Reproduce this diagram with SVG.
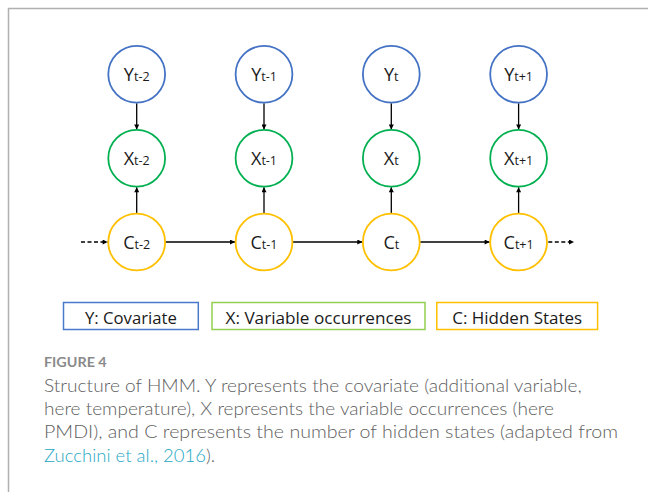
<svg xmlns="http://www.w3.org/2000/svg" width="648" height="492" viewBox="0 0 648 492">
  <style>
    .node { fill: #ffffff; stroke-width: 1.8; }
    .y { stroke: #4472C4; }
    .x { stroke: #00B050; }
    .c { stroke: #FFC000; }
    .lbl { font-family: "Open Sans", "Liberation Sans", sans-serif; font-size: 18px; fill: #1a1a1a; text-anchor: middle; }
    .sub { font-size: 12.5px; }
    .edge { stroke: #000000; stroke-width: 1.3; fill: none; marker-end: url(#arrow); }
    .dash { stroke-dasharray: 4 2.5; }
    .key { fill: #ffffff; stroke-width: 1.5; }
    .keytxt { font-family: "Open Sans", "Liberation Sans", sans-serif; font-size: 17px; fill: #1a1a1a; text-anchor: middle; }
    .cap { font-family: Lato, "Open Sans", sans-serif; font-size: 18.5px; font-weight: 300; fill: #606060; }
  </style>
  <defs>
    <marker id="arrow" viewBox="0 0 10 10" refX="10" refY="5" markerWidth="6" markerHeight="5" markerUnits="userSpaceOnUse" orient="auto">
      <path d="M0,0 L10,5 L0,10 z" fill="#000000"/>
    </marker>
  </defs>

  <rect width="648" height="492" fill="#ffffff"/>
  <!-- panel frame -->
  <path d="M8.5,492 V8.5 H648" fill="none" stroke="#b0b0b0" stroke-width="1.5"/>

  <!-- connectors -->
  <g id="connectors">
    <!-- Y -> X -->
    <line class="edge" x1="136.7" y1="103.3" x2="136.7" y2="129.5"/>
    <line class="edge" x1="264" y1="103.3" x2="264" y2="129.5"/>
    <line class="edge" x1="391.3" y1="103.3" x2="391.3" y2="129.5"/>
    <line class="edge" x1="518.6" y1="103.3" x2="518.6" y2="129.5"/>
    <!-- C -> X -->
    <line class="edge" x1="136.7" y1="213" x2="136.7" y2="187.2"/>
    <line class="edge" x1="264" y1="213" x2="264" y2="187.2"/>
    <line class="edge" x1="391.3" y1="213" x2="391.3" y2="187.2"/>
    <line class="edge" x1="518.6" y1="213" x2="518.6" y2="187.2"/>
    <!-- C -> C -->
    <line class="edge" x1="165.6" y1="242" x2="235" y2="242"/>
    <line class="edge" x1="292.9" y1="242" x2="362.3" y2="242"/>
    <line class="edge" x1="420.2" y1="242" x2="489.6" y2="242"/>
    <!-- open ends of the chain -->
    <line class="edge dash" x1="81" y1="242" x2="107.6" y2="242"/>
    <line class="edge dash" x1="548.3" y1="242" x2="574" y2="242"/>
  </g>

  <!-- covariate nodes -->
  <g id="Y_tm2"><circle class="node y" cx="136.7" cy="74.3" r="28.4"/><text class="lbl" x="136.7" y="81">Y<tspan class="sub">t-2</tspan></text></g>
  <g id="Y_tm1"><circle class="node y" cx="264" cy="74.3" r="28.4"/><text class="lbl" x="264" y="81">Y<tspan class="sub">t-1</tspan></text></g>
  <g id="Y_t"><circle class="node y" cx="391.3" cy="74.3" r="28.4"/><text class="lbl" x="391.3" y="81">Y<tspan class="sub">t</tspan></text></g>
  <g id="Y_tp1"><circle class="node y" cx="518.6" cy="74.3" r="28.4"/><text class="lbl" x="518.6" y="81">Y<tspan class="sub">t+1</tspan></text></g>

  <!-- observation nodes -->
  <g id="X_tm2"><circle class="node x" cx="136.7" cy="158.3" r="28.4"/><text class="lbl" x="136.7" y="165">X<tspan class="sub">t-2</tspan></text></g>
  <g id="X_tm1"><circle class="node x" cx="264" cy="158.3" r="28.4"/><text class="lbl" x="264" y="165">X<tspan class="sub">t-1</tspan></text></g>
  <g id="X_t"><circle class="node x" cx="391.3" cy="158.3" r="28.4"/><text class="lbl" x="391.3" y="165">X<tspan class="sub">t</tspan></text></g>
  <g id="X_tp1"><circle class="node x" cx="518.6" cy="158.3" r="28.4"/><text class="lbl" x="518.6" y="165">X<tspan class="sub">t+1</tspan></text></g>

  <!-- hidden state nodes -->
  <g id="C_tm2"><circle class="node c" cx="136.7" cy="242" r="28.4"/><text class="lbl" x="136.7" y="248.5">C<tspan class="sub">t-2</tspan></text></g>
  <g id="C_tm1"><circle class="node c" cx="264" cy="242" r="28.4"/><text class="lbl" x="264" y="248.5">C<tspan class="sub">t-1</tspan></text></g>
  <g id="C_t"><circle class="node c" cx="391.3" cy="242" r="28.4"/><text class="lbl" x="391.3" y="248.5">C<tspan class="sub">t</tspan></text></g>
  <g id="C_tp1"><circle class="node c" cx="518.6" cy="242" r="28.4"/><text class="lbl" x="518.6" y="248.5">C<tspan class="sub">t+1</tspan></text></g>

  <!-- legend -->
  <g id="legend_Y"><rect class="key" x="63.5" y="302.5" width="134.8" height="27" stroke="#4A78CC"/><text class="keytxt" x="130.9" y="324.3" textLength="92" lengthAdjust="spacingAndGlyphs">Y: Covariate</text></g>
  <g id="legend_X"><rect class="key" x="212" y="302.5" width="213" height="27" stroke="#92D050"/><text class="keytxt" x="318.5" y="324.3" textLength="186" lengthAdjust="spacingAndGlyphs">X: Variable occurrences</text></g>
  <g id="legend_C"><rect class="key" x="436.8" y="302.5" width="160.8" height="27" stroke="#FFC000"/><text class="keytxt" x="517.2" y="324.3" textLength="130" lengthAdjust="spacingAndGlyphs">C: Hidden States</text></g>

  <!-- caption -->
  <g id="caption">
    <text x="44" y="367.3" font-family="Lato, 'Open Sans', sans-serif" font-size="14" font-weight="bold" fill="#8a8a8a" textLength="62.7" lengthAdjust="spacingAndGlyphs">FIGURE 4</text>
    <text class="cap" x="44" y="391.6" textLength="537.7" lengthAdjust="spacingAndGlyphs">Structure of HMM. Y represents the covariate (additional variable,</text>
    <text class="cap" x="44" y="414.9" textLength="510" lengthAdjust="spacingAndGlyphs">here temperature), X represents the variable occurrences (here</text>
    <text class="cap" x="44" y="438.2" textLength="574" lengthAdjust="spacingAndGlyphs">PMDI), and C represents the number of hidden states (adapted from</text>
    <text class="cap" x="44" y="461.5" textLength="162" lengthAdjust="spacingAndGlyphs" style="fill:#26a8c4">Zucchini et al., 2016</text>
    <text class="cap" x="206" y="461.5">).</text>
  </g>
</svg>
